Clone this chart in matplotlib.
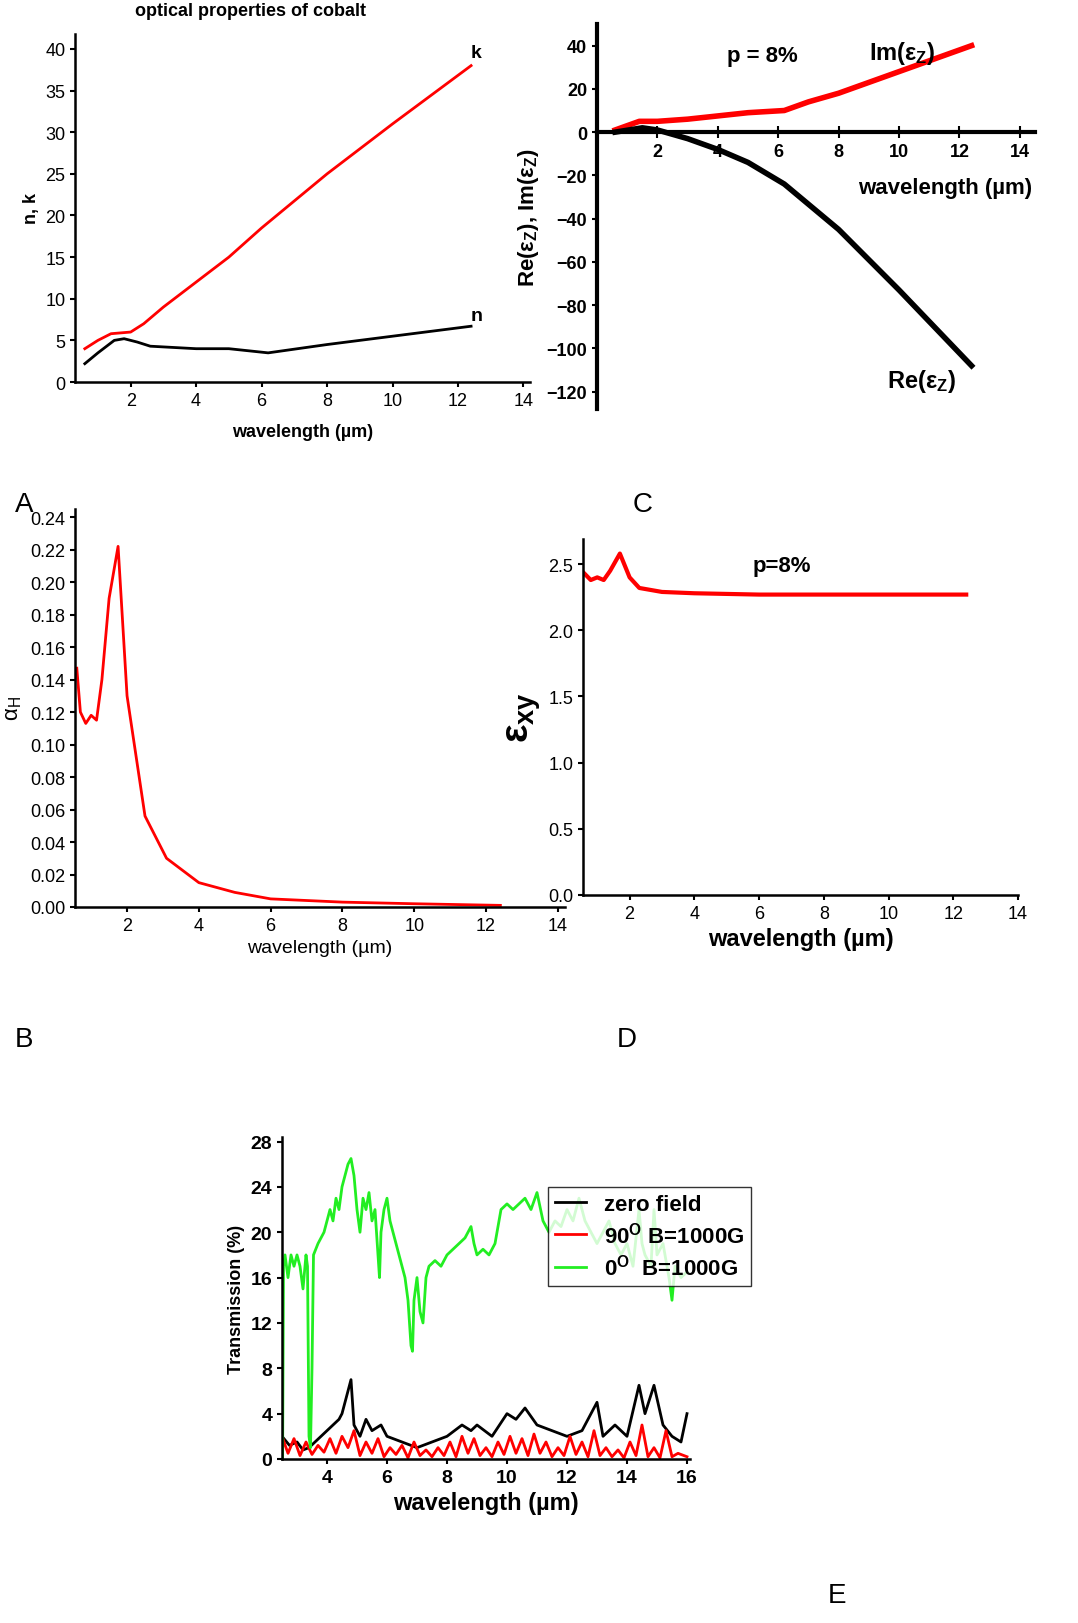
import matplotlib
matplotlib.use("Agg")
import matplotlib.pyplot as plt
import numpy as np

plt.rcParams['font.family'] = ['Liberation Sans', 'DejaVu Sans']
plt.rcParams['mathtext.default'] = 'regular'
plt.rcParams['axes.linewidth'] = 1.8
plt.rcParams['xtick.major.width'] = 1.5
plt.rcParams['ytick.major.width'] = 1.5
plt.rcParams['xtick.labelsize'] = 12
plt.rcParams['ytick.labelsize'] = 12

# Panel A
a_k_x = [0.6, 1.0, 1.4, 2.0, 2.4, 3, 4, 5, 6, 8, 10, 12.4]
a_k_y = [4, 5, 5.8, 6, 7, 9, 12, 15, 18.5, 25, 31, 38]
a_n_x = [0.6, 1.0, 1.5, 1.8, 2.2, 2.6, 4, 5, 6.2, 8, 10, 12.4]
a_n_y = [2.2, 3.5, 5, 5.2, 4.8, 4.3, 4.0, 4.0, 3.5, 4.5, 5.5, 6.7]
# Panel C
c_im_x = [0.6, 1.4, 2, 3, 4, 5, 6.2, 7, 8, 10, 12.4]
c_im_y = [1, 5, 5, 6, 7.5, 9, 10, 14, 18, 28, 40]
c_re_x = [0.6, 1.5, 2, 3, 4, 5, 6.2, 8, 10, 12.4]
c_re_y = [0, 2, 1, -3, -8, -14, -24, -45, -73, -108]
# Panel B
b_x = [0.6, 0.7, 0.85, 1.0, 1.15, 1.3, 1.5, 1.75, 2.0, 2.5, 3.1, 4.0, 5, 6, 8, 10, 12.4]
b_y = [0.147, 0.12, 0.113, 0.118, 0.115, 0.14, 0.19, 0.222, 0.13, 0.056, 0.03, 0.015, 0.009, 0.005, 0.003, 0.002, 0.001]
# Panel D
d_x = [0.6, 0.8, 1.0, 1.2, 1.4, 1.7, 2.0, 2.3, 3, 4, 6, 12.4]
d_y = [2.43, 2.38, 2.4, 2.38, 2.45, 2.58, 2.4, 2.32, 2.29, 2.28, 2.27, 2.27]
# Panel E
g_x = [2.52, 2.55, 2.6, 2.7, 2.8, 2.9, 3.0, 3.1, 3.2, 3.3, 3.35, 3.4, 3.45, 3.5, 3.55, 3.7, 3.9, 4.0, 4.1, 4.2, 4.3, 4.4,
       4.5, 4.6, 4.7, 4.8, 4.9, 5.0, 5.1, 5.2, 5.3, 5.4, 5.5, 5.6, 5.7, 5.75, 5.8, 5.9, 6.0, 6.1, 6.2, 6.3, 6.4, 6.5,
       6.6, 6.7, 6.8, 6.85, 6.9, 7.0, 7.1, 7.2, 7.3, 7.4, 7.6, 7.8, 8.0, 8.2, 8.4, 8.6, 8.8, 8.9, 9.0, 9.2, 9.4, 9.6,
       9.8, 10.0, 10.2, 10.4, 10.6, 10.8, 11.0, 11.2, 11.4, 11.6, 11.8, 12.0, 12.2, 12.4, 12.6, 12.8, 13.0, 13.2,
       13.4, 13.6, 13.8, 14.0, 14.2, 14.4, 14.5, 14.6, 14.8, 14.9, 15.0, 15.2, 15.4, 15.5, 15.6, 15.8, 16.0]
g_y = [0, 17, 18, 16, 18, 17, 18, 17, 15, 18, 17, 2, 1, 8, 18, 19, 20, 21, 22, 21, 23, 22,
       24, 25, 26, 26.5, 25, 22, 20, 23, 22, 23.5, 21, 22, 18, 16, 20, 22, 23, 21, 20, 19, 18, 17,
       16, 14, 10, 9.5, 14, 16, 13, 12, 16, 17, 17.5, 17, 18, 18.5, 19, 19.5, 20.5, 19, 18, 18.5, 18, 19,
       22, 22.5, 22, 22.5, 23, 22, 23.5, 21, 20, 21, 20.5, 22, 21, 23, 21, 20, 19, 20,
       21, 19, 18, 19, 17, 22, 19, 18, 17, 22, 18, 19, 16, 14, 17, 16, 16.5]
k_x = [2.5, 2.75, 3.0, 3.2, 3.4, 3.6, 3.8, 4.0, 4.2, 4.4, 4.5, 4.7, 4.8, 4.9, 5.1, 5.3, 5.5, 5.8, 6.0, 6.5, 7.0,
       7.5, 8.0, 8.5, 8.8, 9.0, 9.5, 10.0, 10.3, 10.6, 11.0, 11.5, 12.0, 12.5, 13.0, 13.2, 13.6, 14.0, 14.4,
       14.6, 14.9, 15.2, 15.5, 15.8, 16.0]
k_y = [2, 1.2, 1.5, 0.8, 1, 1.5, 2, 2.5, 3, 3.5, 4, 6, 7, 3, 2, 3.5, 2.5, 3, 2, 1.5, 1,
       1.5, 2, 3, 2.5, 3, 2, 4, 3.5, 4.5, 3, 2.5, 2, 2.5, 5, 2, 3, 2, 6.5,
       4, 6.5, 3, 2, 1.5, 4]
r_x = [2.5, 2.7, 2.9, 3.1, 3.3, 3.5, 3.7, 3.9, 4.1, 4.3, 4.5, 4.7, 4.9, 5.1, 5.3, 5.5, 5.7, 5.9, 6.1, 6.3,
       6.5, 6.7, 6.9, 7.1, 7.3, 7.5, 7.7, 7.9, 8.1, 8.3, 8.5, 8.7, 8.9, 9.1, 9.3, 9.5, 9.7, 9.9, 10.1,
       10.3, 10.5, 10.7, 10.9, 11.1, 11.3, 11.5, 11.7, 11.9, 12.1, 12.3, 12.5, 12.7, 12.9, 13.1, 13.3,
       13.5, 13.7, 13.9, 14.1, 14.3, 14.5, 14.7, 14.9, 15.1, 15.3, 15.5, 15.7, 16.0]
r_y = [2, 0.5, 1.8, 0.3, 1.5, 0.4, 1.2, 0.6, 1.8, 0.5, 2, 1, 2.5, 0.3, 1.5, 0.5, 1.8, 0.2, 1, 0.4,
       1.2, 0.1, 1.5, 0.3, 0.8, 0.2, 1, 0.3, 1.5, 0.2, 2, 0.5, 1.8, 0.3, 1, 0.2, 1.5, 0.4, 2,
       0.5, 1.8, 0.3, 2.2, 0.5, 1.5, 0.2, 1, 0.3, 2, 0.4, 1.5, 0.2, 2.5, 0.3, 1, 0.2, 0.8, 0.1, 1.5,
       0.3, 3, 0.2, 1, 0.1, 2.5, 0.2, 0.5, 0.2]

W, H = 1078, 1624
fig = plt.figure(figsize=(W/100, H/100), dpi=100)
def ax_px(l, t, r, b):
    return fig.add_axes([l/W, 1-b/H, (r-l)/W, (b-t)/H])

# A
ax = ax_px(75, 35, 530, 383)
ax.plot(a_k_x, a_k_y, color='red', lw=2)
ax.plot(a_n_x, a_n_y, color='black', lw=2)
ax.set_xlim(0.3, 14.2); ax.set_ylim(0, 41.8)
ax.set_xticks(range(2, 15, 2)); ax.set_yticks(range(0, 41, 5))
ax.tick_params(labelsize=13)
ax.spines[['top', 'right']].set_visible(False)
ax.set_xlabel('wavelength (µm)', fontsize=13, fontweight='bold', labelpad=10)
ax.set_ylabel('n, k', fontsize=13, fontweight='bold')
ax.text(12.4, 39, 'k', fontsize=14, fontweight='bold')
ax.text(12.4, 7.5, 'n', fontsize=14, fontweight='bold')
fig.text(135/W, 1-12/H, 'optical properties of cobalt', fontsize=13, fontweight='bold', va='center')

# C
ax = ax_px(597, 25, 1035, 410)
ax.plot(c_im_x, c_im_y, color='red', lw=4)
ax.plot(c_re_x, c_re_y, color='black', lw=4)
ax.set_xlim(0, 14.5); ax.set_ylim(-128, 50)
ax.spines[['top', 'right']].set_visible(False)
ax.spines['bottom'].set_position(('data', 0))
ax.spines['bottom'].set_linewidth(3); ax.spines['left'].set_linewidth(3)
ax.set_xticks(range(2, 15, 2)); ax.set_yticks(range(-120, 41, 20))
ax.tick_params(axis='x', direction='inout', length=8, labelsize=13, pad=4)
ax.tick_params(axis='y', direction='out', labelsize=13)
for lab in ax.get_xticklabels() + ax.get_yticklabels():
    lab.set_fontweight('bold')
ax.text(14.4, -28, 'wavelength (µm)', fontsize=16, fontweight='bold', ha='right')
ax.set_ylabel('Re(ε$_Z$), Im(ε$_Z$)', fontsize=16, fontweight='bold')
ax.text(4.3, 33, 'p = 8%', fontsize=16, fontweight='bold')
ax.text(9.0, 34, 'Im(ε$_Z$)', fontsize=17, fontweight='bold')
ax.text(9.6, -118, 'Re(ε$_Z$)', fontsize=17, fontweight='bold')

# B
ax = ax_px(75, 510, 565, 908)
ax.plot(b_x, b_y, color='red', lw=2)
ax.set_xlim(0.55, 14.2); ax.set_ylim(0, 0.245)
ax.set_xticks(range(2, 15, 2)); ax.set_yticks(np.arange(0, 0.241, 0.02))
ax.set_yticklabels([f'{v:.2f}' for v in np.arange(0, 0.241, 0.02)])
ax.tick_params(labelsize=13)
ax.spines[['top', 'right']].set_visible(False)
ax.set_xlabel('wavelength (µm)', fontsize=14)
ax.set_ylabel('α$_H$', fontsize=16)

# D
ax = ax_px(583, 540, 1018, 896)
ax.plot(d_x, d_y, color='red', lw=3)
ax.set_xlim(0.56, 14.0); ax.set_ylim(0, 2.69)
ax.set_xticks(range(2, 15, 2)); ax.set_yticks(np.arange(0, 2.51, 0.5))
ax.tick_params(labelsize=13)
ax.spines[['top', 'right']].set_visible(False)
ax.set_xlabel('wavelength (µm)', fontsize=17, fontweight='bold')
ax.set_ylabel('ε$_{xy}$', fontsize=28, fontweight='bold')
ax.text(5.8, 2.45, 'p=8%', fontsize=16, fontweight='bold')

# E
ax = ax_px(282, 1138, 690, 1460)
ax.plot(k_x, k_y, color='black', lw=2, label='zero field')
ax.plot(r_x, r_y, color='red', lw=2, label='90$^O$ B=1000G')
ax.plot(g_x, g_y, color='#22ee22', lw=2, label='0$^O$  B=1000G')
ax.set_xlim(2.5, 16.1); ax.set_ylim(0, 28.4)
ax.set_xticks(range(4, 17, 2)); ax.set_yticks(range(0, 29, 4))
ax.tick_params(labelsize=14)
for lab in ax.get_xticklabels() + ax.get_yticklabels():
    lab.set_fontweight('bold')
ax.spines[['top', 'right']].set_visible(False)
ax.set_xlabel('wavelength (µm)', fontsize=17, fontweight='bold')
ax.set_ylabel('Transmission (%)', fontsize=13, fontweight='bold')
ax.legend(loc='upper left', bbox_to_anchor=((548-282)/408, 1+(1088-1138)/322), frameon=True,
          fancybox=False, edgecolor='black', prop={'size': 16, 'weight': 'bold'},
          handlelength=1.4, borderaxespad=0, borderpad=0.3, labelspacing=0.3).get_frame().set_linewidth(1.0)

for s, x, y in [('A', 15, 505), ('C', 633, 505), ('B', 15, 1040), ('D', 617, 1040), ('E', 828, 1596)]:
    fig.text(x/W, 1-y/H, s, fontsize=20, va='center')

fig.savefig('out.png', dpi=100)
